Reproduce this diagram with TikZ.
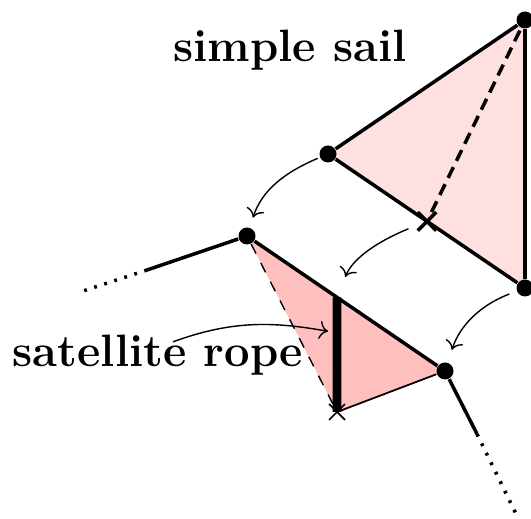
\documentclass[tikz,border=0pt]{standalone}
\usepackage{amsmath,amssymb}
\usetikzlibrary{positioning,arrows.meta,calc,shapes.misc,backgrounds}

\begin{document}
\begin{tikzpicture}[
x=0.01cm, y=0.01cm,
    vertex/.style={
        circle,
        fill=black,
        minimum size=1.7mm,
        inner sep=0pt
    },
    crossmark/.style={
        cross out,
        draw,
        minimum size=1.5mm,
        inner sep=0pt
    },
    rim/.style={line width=1pt},
    maparrow/.style={->, line width=0.4pt},
    dotline/.style={line width=1pt, dash pattern=on 0.8pt off 2.2pt},
    sailtext/.style={font=\fontsize{12.9}{15}\selectfont\bfseries, inner sep=0pt, anchor=base}
]
\useasboundingbox (0,0) rectangle (531,519);

\node[vertex] (L) at (328,365) {};
\node[vertex] (T) at (525,499) {};
\node[vertex] (B) at (525,231) {};
\node[crossmark, line width=1pt] (X) at ($(L)!0.5025!(B)$) {};

\node[vertex] (A) at (247,283) {};
\node[vertex] (C) at (445,148) {};
\node[crossmark, line width=0.5pt, minimum size=1.4mm] (Y) at (337,107) {};
\coordinate (ropetop) at ($(A)!0.4545!(C)$);
\coordinate (ropemid) at ($(ropetop)!0.31!(Y.center)$);

\coordinate (aend) at (147,249);
\coordinate (afar) at (77,226);
\coordinate (cend) at (477,85);
\coordinate (cfar) at (518,1);

\node[sailtext] (saillabel) at (290,457) {simple sail};
\node[sailtext] (ropelabel) at (158,152) {satellite rope};

% The two pink faces
\begin{scope}[on background layer]
\fill[red!12] (L.center) -- (T.center) -- (B.center) -- cycle;
\fill[red!25] (A.center) -- (C.center) -- (Y.center) -- cycle;
\end{scope}

% The simple sail
\draw[rim] (L) -- (T);
\draw[rim] (T) -- (B);
\draw[rim] (L) -- (B);
\draw[rim, dash pattern=on 3.4pt off 2pt] (X) -- (T);

% The rope with its satellite
\draw[rim] (aend) -- (A);
\draw[dotline] (aend) -- (afar);
\draw[rim] (A) -- (C);
\draw[rim] (C) -- (cend);
\draw[dotline] (cend) -- (cfar);
\draw[dashed, line width=0.4pt] (A) -- (Y.center);
\draw[line width=0.5pt] (Y.center) -- (C);
\draw[line width=2.5pt] (ropetop) -- (Y.center);

% Where the sail goes
\draw[maparrow, shorten <=0.2mm, shorten >=1mm] (L) to[out=203,in=72] (A);
\draw[maparrow, shorten <=1mm, shorten >=2.2mm] (X) to[out=202,in=68] (ropetop);
\draw[maparrow, shorten <=0.75mm, shorten >=1.3mm] (B) to[out=201,in=72] (C);
\draw[maparrow, shorten >=0.9mm] ([xshift=1.5mm,yshift=-0.7mm]ropelabel.north) to[out=20,in=170] (ropemid);
\end{tikzpicture}
\end{document}
